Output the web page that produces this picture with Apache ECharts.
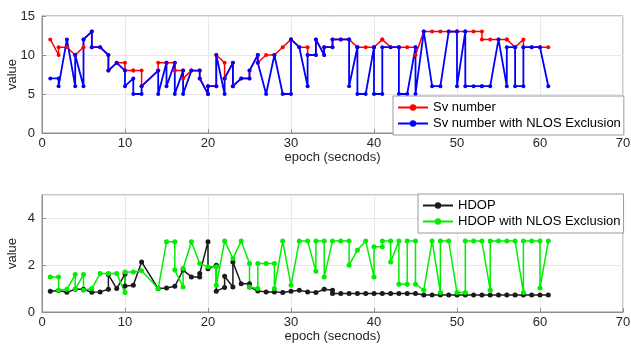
<!DOCTYPE html>
<html>
<head>
<meta charset="utf-8">
<script src="https://cdn.jsdelivr.net/npm/echarts@6/dist/echarts.min.js"></script>
<style>
html, body { margin: 0; padding: 0; background: #fff; }
#main { width: 631px; height: 354px; }
</style>
</head>
<body>
<div id="main"></div>
<script>
// top plot: satellites, one x list shared by both series (some epochs appear twice)
var svEpoch = [1, 2, 2, 3, 4, 4, 5, 5, 6, 6, 7, 8, 8, 9, 10, 10, 11, 11, 12, 12,
    14, 14, 15, 15, 16, 16, 17, 17, 18, 19, 19, 20, 20, 21, 21, 22, 22, 23, 23, 24,
    25, 25, 26, 26, 27, 28, 29, 30, 30, 31, 32, 32, 33, 33, 34, 34, 35, 35, 36, 37,
    37, 38, 38, 39, 40, 40, 41, 41, 42, 43, 43, 44, 45, 45, 46, 47, 48, 49, 50, 50,
    51, 51, 52, 53, 53, 54, 55, 56, 56, 57, 57, 58, 58, 59, 60, 61];
var svNumber = [12, 10, 11, 11, 10, 10, 11, 12, 13, 11, 11, 10, 8, 9, 9, 8, 8, 8, 8, 6,
    8, 9, 9, 9, 9, 8, 8, 7, 8, 8, 7, 5, 6, 6, 10, 9, 7, 9, 6, 7,
    7, 8, 10, 9, 10, 10, 11, 12, 12, 11, 11, 10, 10, 12, 10, 11, 11, 12, 12, 12,
    12, 11, 11, 11, 11, 11, 12, 12, 11, 11, 11, 11, 11, 10, 13, 13, 13, 13, 13, 13,
    13, 13, 13, 13, 12, 12, 12, 12, 12, 11, 11, 12, 11, 11, 11, 11];
var svNlos = [7, 7, 6, 12, 6, 10, 6, 12, 13, 11, 11, 10, 8, 9, 8, 6, 7, 5, 5, 6,
    8, 5, 9, 6, 9, 5, 8, 5, 8, 8, 7, 5, 6, 6, 10, 5, 7, 9, 6, 7,
    7, 8, 10, 9, 5, 10, 5, 5, 12, 11, 6, 10, 10, 12, 10, 11, 11, 12, 12, 12,
    6, 11, 5, 5, 11, 5, 5, 11, 11, 11, 5, 5, 11, 5, 13, 6, 6, 13, 13, 6,
    13, 6, 6, 6, 6, 6, 12, 6, 11, 11, 6, 6, 11, 11, 11, 6];

// bottom plot: HDOP
var hdopEpoch = [1, 2, 3, 4, 5, 6, 7, 8, 8, 9, 10, 10, 11, 12, 14, 15, 16, 17, 18, 19,
    19, 20, 20, 21, 21, 22, 22, 23, 23, 24, 25, 25, 26, 27, 28, 29, 30, 31, 32, 33,
    34, 35, 35, 36, 37, 38, 39, 40, 41, 42, 43, 44, 45, 46, 47, 48, 49, 50, 51, 52,
    53, 54, 55, 56, 57, 58, 59, 60, 61];
var hdop = [0.89, 0.92, 0.84, 0.97, 0.97, 0.84, 0.86, 0.97, 1.6, 1.0, 1.62, 1.11, 1.14, 2.14, 1.0, 1.03, 1.1, 1.79, 1.5, 1.5,
    1.64, 3.0, 1.85, 2.0, 0.89, 1.05, 1.53, 1.07, 2.14, 1.21, 1.21, 1.07, 0.9, 0.86, 0.86, 0.83, 0.89, 0.93, 0.86, 0.83,
    0.97, 0.93, 0.79, 0.79, 0.79, 0.79, 0.79, 0.79, 0.79, 0.79, 0.79, 0.79, 0.79, 0.73, 0.73, 0.73, 0.73, 0.73, 0.73, 0.73,
    0.73, 0.73, 0.73, 0.73, 0.73, 0.73, 0.73, 0.73, 0.73];
var hdopNlosEpoch = [1, 2, 2, 3, 4, 4, 5, 5, 6, 7, 8, 9, 10, 10, 11, 12, 14, 15, 16, 16,
    17, 17, 18, 19, 20, 21, 21, 22, 23, 24, 25, 25, 26, 26, 27, 28, 28, 29, 30, 31,
    32, 33, 33, 34, 34, 35, 36, 37, 37, 38, 39, 40, 40, 41, 41, 42, 42, 43, 43, 44,
    44, 45, 45, 46, 47, 48, 48, 49, 50, 51, 51, 52, 53, 54, 54, 55, 56, 57, 58, 58,
    59, 60, 60, 61];
var hdopNlos = [1.5, 1.5, 0.93, 0.97, 1.6, 0.97, 1.6, 0.93, 1.0, 1.64, 1.64, 1.64, 0.83, 1.71, 1.71, 1.76, 1.0, 3.0, 3.0, 1.79,
    1.07, 1.86, 3.0, 2.07, 1.93, 1.93, 1.14, 3.03, 2.29, 3.03, 2.07, 1.07, 1.0, 2.07, 2.07, 2.07, 1.0, 3.03, 1.14, 3.03,
    3.03, 1.74, 3.03, 3.03, 1.5, 3.03, 3.03, 3.03, 2.0, 2.64, 3.03, 1.5, 2.79, 2.79, 3.03, 3.03, 2.14, 3.03, 1.19, 1.19,
    3.03, 3.03, 1.19, 0.93, 3.03, 0.83, 3.03, 3.03, 0.83, 0.83, 3.03, 3.03, 3.03, 0.93, 3.03, 3.03, 3.03, 3.03, 0.83, 3.03,
    3.03, 3.03, 1.03, 3.03];

var xMax = 70, xStep = 10;
var svMax = 15, svStep = 5;
var hdopMax = 5, hdopStep = 2;

var font = '"Liberation Sans", Arial, sans-serif';
var boxColor = '#8f8f8f';

function pairs(xs, ys) {
    return xs.map(function (x, i) { return [x, ys[i]]; });
}

function xAxisFor(gridIndex) {
    return {
        type: 'value', gridIndex: gridIndex, min: 0, max: xMax, interval: xStep,
        name: 'epoch (secnods)', nameLocation: 'middle', nameGap: 18, nameMoveOverlap: false,
        nameTextStyle: { color: '#262626', fontSize: 13, fontFamily: font },
        axisLine: { show: true, onZero: false, lineStyle: { color: boxColor } },
        axisTick: { show: true, inside: true, length: 4, lineStyle: { color: boxColor } },
        axisLabel: { color: '#262626', fontSize: 13, fontFamily: font, margin: 4 },
        splitLine: { show: true, lineStyle: { color: '#e8e8e8' } }
    };
}

function yAxisFor(gridIndex, max, step) {
    return {
        type: 'value', gridIndex: gridIndex, min: 0, max: max, interval: step,
        name: 'value', nameLocation: 'middle', nameGap: 23, nameRotate: 90, nameMoveOverlap: false,
        nameTextStyle: { color: '#262626', fontSize: 13, fontFamily: font },
        axisLine: { show: true, lineStyle: { color: boxColor } },
        axisTick: { show: true, inside: true, length: 4, lineStyle: { color: boxColor } },
        axisLabel: { color: '#262626', fontSize: 13, fontFamily: font, margin: 7, showMaxLabel: max % step === 0 },
        splitLine: { show: true, lineStyle: { color: '#e8e8e8' } }
    };
}

function lineSeries(name, color, xi, data, size, width) {
    return {
        name: name, type: 'line', xAxisIndex: xi, yAxisIndex: xi,
        data: data, symbol: 'circle', symbolSize: size,
        lineStyle: { color: color, width: width },
        itemStyle: { color: color },
        animation: false
    };
}

var legendBox = {
    orient: 'vertical', backgroundColor: '#fff', borderColor: '#9a9a9a', borderWidth: 1,
    padding: [5, 3, 5, 4], itemGap: 3, itemWidth: 30, itemHeight: 8,
    textStyle: { color: '#000', fontSize: 13, fontFamily: font }
};

var myChart = echarts.init(document.getElementById('main'));
var option = {
    backgroundColor: '#fff',
    grid: [
        { left: 42, top: 16, width: 581, height: 117, show: true, borderColor: boxColor, borderWidth: 1, outerBoundsMode: 'none', containLabel: false },
        { left: 42, top: 195, width: 581, height: 117, show: true, borderColor: boxColor, borderWidth: 1, outerBoundsMode: 'none', containLabel: false }
    ],
    xAxis: [xAxisFor(0), xAxisFor(1)],
    yAxis: [yAxisFor(0, svMax, svStep), yAxisFor(1, hdopMax, hdopStep)],
    legend: [
        Object.assign({}, legendBox, { left: 393, top: 96, data: ['Sv number', 'Sv number with NLOS Exclusion'] }),
        Object.assign({}, legendBox, { left: 418, top: 194, data: ['HDOP', 'HDOP with NLOS Exclusion'] })
    ],
    series: [
        lineSeries('Sv number', '#ff0000', 0, pairs(svEpoch, svNumber), 4, 1.5),
        lineSeries('Sv number with NLOS Exclusion', '#0000ff', 0, pairs(svEpoch, svNlos), 4, 1.8),
        lineSeries('HDOP', '#1a1a1a', 1, pairs(hdopEpoch, hdop), 5, 1.5),
        lineSeries('HDOP with NLOS Exclusion', '#00ee00', 1, pairs(hdopNlosEpoch, hdopNlos), 5, 1.5)
    ]
};
myChart.setOption(option);
</script>
</body>
</html>
